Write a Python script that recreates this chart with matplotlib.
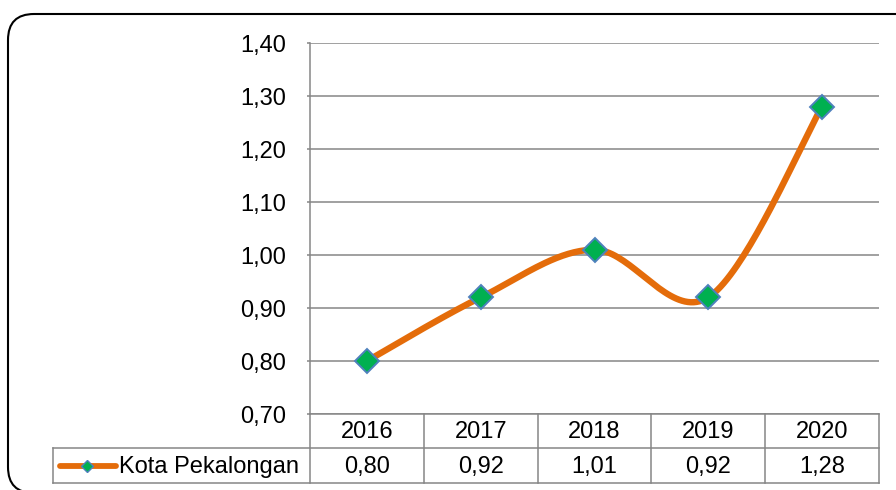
import numpy as np
import matplotlib
matplotlib.use("Agg")
import matplotlib.pyplot as plt
from matplotlib.patches import FancyBboxPatch
from matplotlib.lines import Line2D
from matplotlib.transforms import blended_transform_factory

# data
years = ["2016", "2017", "2018", "2019", "2020"]
values = [0.80, 0.92, 1.01, 0.92, 1.28]
series_name = "Kota Pekalongan"
yticks = [0.70, 0.80, 0.90, 1.00, 1.10, 1.20, 1.30, 1.40]

plt.rcParams['font.family'] = ['Liberation Sans', 'DejaVu Sans']
FS = 17

W, H = 896, 490
orange = '#E46C0A'
green = '#00B050'
blue = '#4F81BD'
grey = '#868686'


def fx(x):
    return x / W


def fy(y):
    return (H - y) / H


fig = plt.figure(figsize=(W / 100, H / 100), dpi=100)

# rounded chart border (right/bottom run past the picture edge)
border = FancyBboxPatch((0.08, -0.03), 9.3, 4.79,
                        boxstyle="round,pad=0,rounding_size=0.26",
                        transform=fig.dpi_scale_trans, facecolor='none',
                        edgecolor='black', linewidth=1.5, zorder=-1)
fig.patches.append(border)

# plot area in pixels
left, right, top, bottom = 310, 879, 43, 414
ax = fig.add_axes([fx(left), fy(bottom), (right - left) / W, (bottom - top) / H])
ax.set_facecolor('none')
ax.set_xlim(0, len(years))
ax.set_ylim(yticks[0], yticks[-1])
ax.set_yticks(yticks)
ax.set_yticklabels([f"{v:.2f}".replace('.', ',') for v in yticks], fontsize=FS)
ax.set_xticks([])
ax.tick_params(axis='y', length=2, width=1.1, color=grey, pad=15)
ax.yaxis.grid(True, color=grey, linewidth=1.1)
ax.set_axisbelow(True)
for s in ['top', 'right']:
    ax.spines[s].set_visible(False)
for s in ['left', 'bottom']:
    ax.spines[s].set_color(grey)
    ax.spines[s].set_linewidth(1.1)

# smoothed line (Excel-like catmull-rom bezier through the points)
xs = np.arange(len(values)) + 0.5
ys = np.array(values)
pts = np.column_stack([xs, ys])
t = np.linspace(0, 1, 40)[:, None]
curve = []
for i in range(len(pts) - 1):
    p0 = pts[max(i - 1, 0)]
    p1 = pts[i]
    p2 = pts[i + 1]
    p3 = pts[min(i + 2, len(pts) - 1)]
    c1 = p1 + (p2 - p0) / 6
    c2 = p2 - (p3 - p1) / 6
    seg = ((1 - t) ** 3) * p1 + 3 * ((1 - t) ** 2) * t * c1 + 3 * (1 - t) * t ** 2 * c2 + t ** 3 * p2
    curve.append(seg)
curve = np.vstack(curve)
ax.plot(curve[:, 0], curve[:, 1], color=orange, linewidth=4.6,
        solid_capstyle='round', zorder=3, clip_on=False)
ax.plot(xs, ys, linestyle='none', marker='D', markersize=12,
        markerfacecolor=green, markeredgecolor=blue, markeredgewidth=1.4,
        zorder=4, clip_on=False)

# data table
row1_top, row_mid, row_bot = 414, 448, 483
legend_left = 53
lw = 1.1
bx = blended_transform_factory(ax.transData, fig.transFigure)


def hline(x0, x1, y):
    fig.add_artist(Line2D([fx(x0), fx(x1)], [fy(y), fy(y)], color=grey, linewidth=lw))


def vline_px(x, y0, y1):
    fig.add_artist(Line2D([fx(x), fx(x)], [fy(y0), fy(y1)], color=grey, linewidth=lw))


hline(legend_left, right, row_mid)
hline(legend_left, right, row_bot)
vline_px(legend_left, row_mid, row_bot)
for i in range(len(years) + 1):
    fig.add_artist(Line2D([i, i], [fy(row1_top), fy(row_bot)], color=grey,
                          linewidth=lw, transform=bx))

for i, (yr, v) in enumerate(zip(years, values)):
    fig.text(i + 0.5, fy((row1_top + row_mid) / 2 + 1), yr, transform=bx,
             ha='center', va='center', fontsize=FS)
    fig.text(i + 0.5, fy((row_mid + row_bot) / 2 + 1), f"{v:.2f}".replace('.', ','),
             transform=bx, ha='center', va='center', fontsize=FS)

# legend key inside the table
ly = (row_mid + row_bot) / 2
fig.add_artist(Line2D([fx(60), fx(116)], [fy(ly), fy(ly)], color=orange,
                      linewidth=4.2, solid_capstyle='round'))
fig.add_artist(Line2D([fx(87)], [fy(ly)], marker='D', markersize=6.5,
                      markerfacecolor=green, markeredgecolor=blue,
                      markeredgewidth=1.0, linestyle='none'))
fig.text(fx(119), fy(ly + 1), series_name, ha='left', va='center', fontsize=FS)

fig.savefig("out.png", dpi=100)
